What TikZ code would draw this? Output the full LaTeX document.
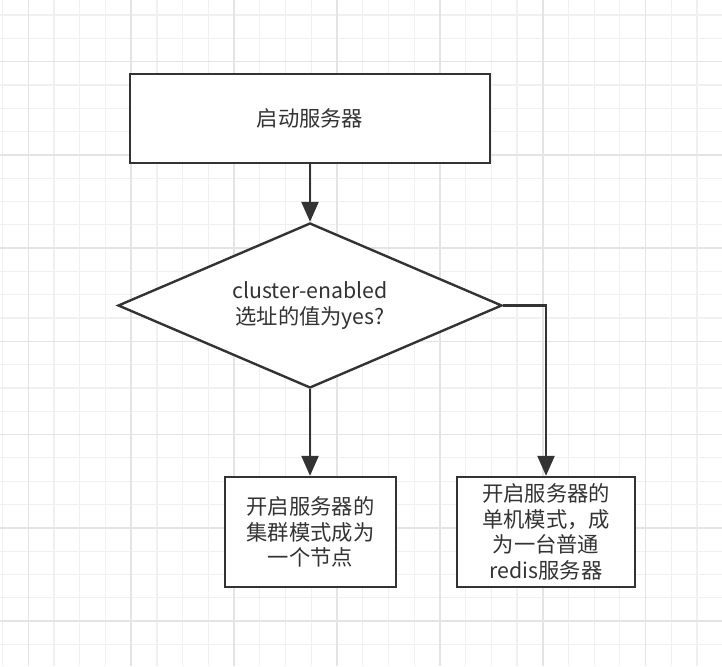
\documentclass[tikz,border=0pt]{standalone}
\usepackage{fontspec}
\setmainfont{Noto Sans CJK SC}
\usetikzlibrary{shapes.geometric,arrows.meta}
\definecolor{gridminor}{RGB}{240,240,240}
\definecolor{gridmajor}{RGB}{228,228,228}
\definecolor{ink}{RGB}{51,51,51}
\tikzset{
  box/.style={draw=ink, line width=2.4pt, fill=white, rectangle, inner sep=0pt,
    align=center, text=ink, font=\fontsize{21.3}{25.5}\selectfont},
  decision/.style={draw=ink, line width=2.4pt, fill=white, diamond, aspect=2.33, inner sep=0pt,
    align=center, text=ink, font=\fontsize{21.3}{25.5}\selectfont},
  flow/.style={draw=ink, line width=2.4pt, -{Triangle[length=20pt,width=17pt]}},
}
\begin{document}
\begin{tikzpicture}[x=1pt,y=-1pt]
\useasboundingbox (0,0) rectangle (722,666);
\fill[white] (0,0) rectangle (722,666);
% grid
\foreach \k in {0,...,27} {
  \draw[gridminor, line width=1.2pt] ({2.6+25.72*\k},0) -- ({2.6+25.72*\k},666);
  \draw[gridminor, line width=1.2pt] (0,{15+23.31*\k}) -- (722,{15+23.31*\k});
}
\foreach \m in {0,...,6} {
  \draw[gridmajor, line width=1.6pt] ({28.3+102.88*\m},0) -- ({28.3+102.88*\m},666);
  \draw[gridmajor, line width=1.6pt] (0,{61.6+93.24*\m}) -- (722,{61.6+93.24*\m});
}
% nodes
\node[box, minimum width=360pt, minimum height=89pt] (start) at (310,118.5) {启动服务器};
\node[decision, minimum width=384pt, minimum height=165pt] (q) at (310,305.5)
  {cluster-enabled\\选址的值为yes?};
\node[box, minimum width=171pt, minimum height=110pt] (cluster) at (310.5,532)
  {开启服务器的\\集群模式成为\\一个节点};
\node[box, minimum width=178pt, minimum height=110pt] (single) at (546,532)
  {开启服务器的\\单机模式，成\\为一台普通\\redis服务器};
% connectors
\draw[flow] (start.south) -- (q.north);
\draw[flow] (q.south) -- (q.south |- cluster.north);
\draw[flow] (q.east) -| (single.north);
\end{tikzpicture}
\end{document}
